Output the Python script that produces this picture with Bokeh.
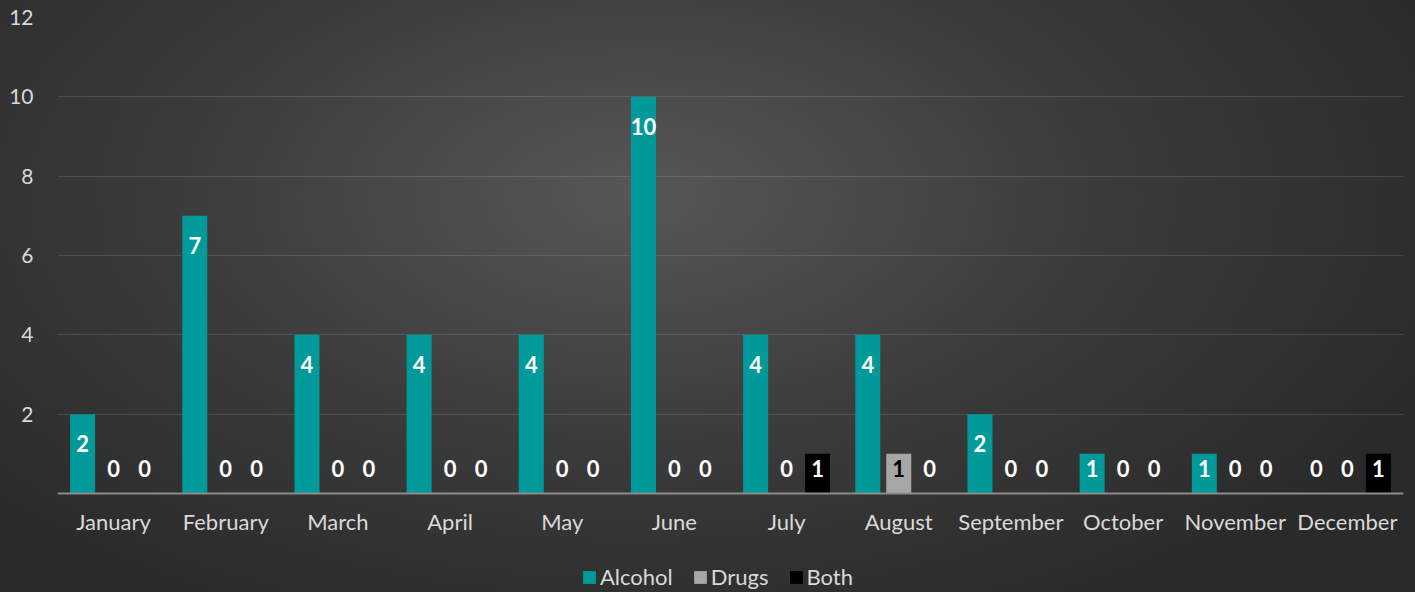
from bokeh.plotting import figure
from bokeh.models import ColumnDataSource, FactorRange, FixedTicker, Legend, LegendItem, Range1d
from bokeh.transform import dodge
from bokeh.core.properties import value
from bokeh.embed import file_html
from bokeh.resources import INLINE

months = ["January", "February", "March", "April", "May", "June", "July",
          "August", "September", "October", "November", "December"]
alcohol = [2, 7, 4, 4, 4, 10, 4, 4, 2, 1, 1, 0]
drugs = [0, 0, 0, 0, 0, 0, 0, 1, 0, 0, 0, 0]
both = [0, 0, 0, 0, 0, 0, 1, 0, 0, 0, 0, 1]
series_names = ["Alcohol", "Drugs", "Both"]
series_colors = ["#009a9a", "#a6a6a6", "#000000"]
y_ticks = [2, 4, 6, 8, 10, 12]

FONT = "Lato"

def label_y(v):
    return max(v - 0.75, 0.63)

src = ColumnDataSource(dict(
    month=months,
    alcohol=alcohol, drugs=drugs, both=both,
    alcohol_t=[str(v) for v in alcohol],
    drugs_t=[str(v) for v in drugs],
    both_t=[str(v) for v in both],
    alcohol_y=[label_y(v) for v in alcohol],
    drugs_y=[label_y(v) for v in drugs],
    both_y=[label_y(v) for v in both],
    drugs_c=["#000000" if v > 0 else "#ffffff" for v in drugs],
))

# frame spans from the 12 gridline down to the bottom of the window;
# the category axis is pinned at y = 0 and the legend sits under it
p = figure(x_range=FactorRange(factors=months), y_range=Range1d(-2.495, 12),
           frame_width=1346, frame_height=575, output_backend="svg", toolbar_location=None,
           min_border_left=57, min_border_right=12, min_border_top=17,
           min_border_bottom=0)
p.background_fill_color = None
p.border_fill_color = None
p.outline_line_color = None

offsets = [-0.276, 0.0, 0.276]
cols = ["alcohol", "drugs", "both"]
items = []
for name, col, off, colr in zip(series_names, cols, offsets, series_colors):
    r = p.vbar(x=dodge("month", off, range=p.x_range), top=col, width=0.223,
               source=src, fill_color=colr, line_color=None)
    items.append(LegendItem(label=name, renderers=[r]))
    tc = "drugs_c" if col == "drugs" else value("#ffffff")
    p.text(x=dodge("month", off, range=p.x_range), y=col + "_y", text=col + "_t",
           source=src, text_color=tc, text_font=value(FONT),
           text_font_style="bold", text_font_size="22px",
           text_align="center", text_baseline="middle")

p.yaxis.ticker = FixedTicker(ticks=y_ticks)
p.yaxis.axis_line_color = None
p.yaxis.major_tick_line_color = None
p.yaxis.minor_tick_line_color = None
p.yaxis.major_label_standoff = 18
p.yaxis.major_label_text_font = FONT
p.yaxis.major_label_text_font_size = "21px"
p.yaxis.major_label_text_color = "#d9d9d9"

p.xaxis.fixed_location = 0
p.xaxis.axis_line_color = "#8c8c8c"
p.xaxis.axis_line_width = 2
p.xaxis.major_tick_line_color = None
p.xaxis.minor_tick_line_color = None
p.xaxis.major_label_standoff = 8
p.xaxis.major_label_text_font = FONT
p.xaxis.major_label_text_font_size = "22px"
p.xaxis.major_label_text_color = "#d9d9d9"

p.xgrid.grid_line_color = None
p.ygrid.grid_line_color = "#ffffff"
p.ygrid.grid_line_alpha = 0.12
p.ygrid.grid_line_width = 1

legend = Legend(items=items, orientation="horizontal", location=(524, 2),
                background_fill_alpha=0, border_line_color=None,
                label_text_font=FONT, label_text_font_size="22px",
                label_text_color="#d9d9d9", glyph_width=16, glyph_height=16,
                label_standoff=3, spacing=19, padding=0, margin=0,
                label_height=20)
p.add_layout(legend, "center")

html = file_html(p, INLINE, title="Incidents")
style = ("<style>html,body{margin:0;padding:0;overflow:hidden;"
         "background:radial-gradient(ellipse 62% 80% at 45% 33%, #575757 0%, #3a3a3a 55%, #2a2a2a 100%);}</style>")
html = html.replace("</head>", style + "</head>", 1)
open("out.html", "w").write(html)
